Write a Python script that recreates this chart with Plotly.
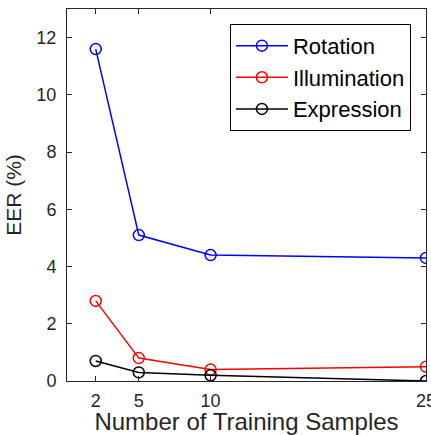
import plotly.graph_objects as go

samples = [2, 5, 10, 25]
rotation = [11.6, 5.1, 4.4, 4.3]
illumination = [2.8, 0.8, 0.4, 0.5]
expression = [0.7, 0.3, 0.2, 0.0]
y_ticks = [0, 2, 4, 6, 8, 10, 12]

font_family = "Liberation Sans, Arial, Helvetica, sans-serif"

fig = go.Figure()
for name, vals, color in [("Rotation", rotation, "#0000ff"),
                          ("Illumination", illumination, "#ff0000"),
                          ("Expression", expression, "#000000")]:
    fig.add_trace(go.Scatter(
        x=samples, y=vals, name=name, mode="lines+markers",
        line=dict(color=color, width=1.5),
        marker=dict(symbol="circle-open", size=11, color=color, line=dict(width=1.5)),
    ))

axis_common = dict(
    showline=True, linecolor="#262626", linewidth=1, mirror="allticks",
    ticks="inside", ticklen=5, tickcolor="#262626", showgrid=False, zeroline=False,
    tickfont=dict(size=18, color="#262626", family=font_family),
    ticklabeloverflow="allow",
)

fig.update_xaxes(range=[0, 25], tickvals=samples, ticklabelstandoff=3,
                 title=dict(text="Number of Training Samples", standoff=0,
                            font=dict(size=24, color="#262626", family=font_family)),
                 **axis_common)
fig.update_yaxes(range=[0, 13], tickvals=y_ticks, ticklabelstandoff=6,
                 title=dict(text="EER (%)", standoff=9,
                            font=dict(size=21, color="#262626", family=font_family)),
                 **axis_common)

fig.update_layout(
    width=431, height=435,
    margin=dict(l=67, r=5, t=9, b=54, autoexpand=False),
    plot_bgcolor="white", paper_bgcolor="white",
    font=dict(family=font_family, color="#000000"),
    legend=dict(x=0.958, y=0.96, xanchor="right", yanchor="top",
                bordercolor="#000000", borderwidth=1, bgcolor="white",
                font=dict(size=22, color="#000000", family=font_family),
                itemwidth=52, tracegroupgap=0),
    showlegend=True,
)

fig.write_html("out.html", config={"displayModeBar": False},
               post_script="document.body.style.margin='0';document.body.style.overflow='hidden';")
